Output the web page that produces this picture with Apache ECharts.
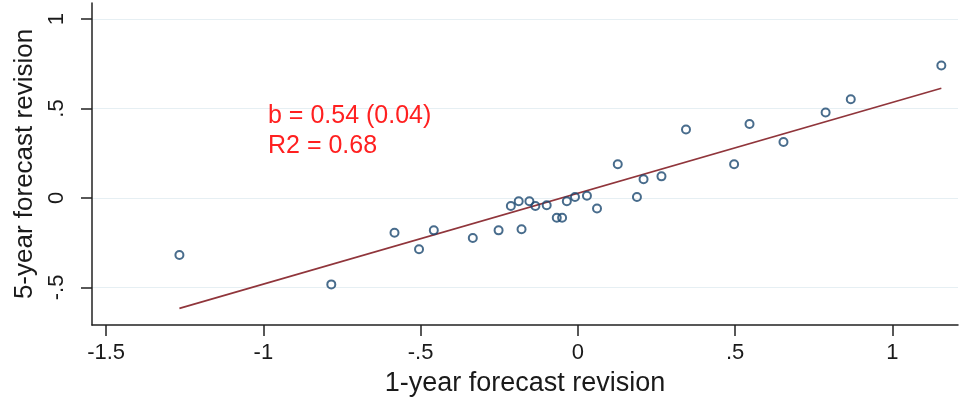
<!DOCTYPE html>
<html>
<head>
<meta charset="utf-8">
<style>html,body{margin:0;padding:0;background:#fff;}#c{width:961px;height:397px;}</style>
<script src="https://cdn.jsdelivr.net/npm/echarts@6/dist/echarts.min.js"></script>
</head>
<body>
<div id="c"></div>
<script>
// Data
var xValues = [-1.267,-0.784,-0.583,-0.505,-0.458,-0.334,-0.252,-0.213,-0.188,-0.179,-0.154,-0.135,-0.099,-0.067,-0.050,-0.035,-0.009,0.029,0.061,0.127,0.188,0.209,0.266,0.344,0.497,0.546,0.654,0.788,0.868,1.156];
var yValues = [-0.319,-0.483,-0.194,-0.287,-0.181,-0.224,-0.181,-0.045,-0.018,-0.175,-0.018,-0.045,-0.041,-0.110,-0.110,-0.018,0.006,0.013,-0.059,0.189,0.006,0.105,0.121,0.383,0.189,0.414,0.313,0.478,0.552,0.741];
var fitX = [-1.267, 1.156];
var fitY = [-0.617, 0.614];
var xTicks = [-1.5,-1,-0.5,0,0.5,1];
var yTicks = [-0.5,0,0.5,1];
var annotation = ['b = 0.54 (0.04)', 'R2 = 0.68'];

function fmt(v){
  var s = String(Math.round(v*10)/10);
  return s.replace(/^(-?)0\./, '$1.');
}

var points = xValues.map(function(x,i){return [x, yValues[i]];});
var fitLine = fitX.map(function(x,i){return [x, fitY[i]];});

var chart = echarts.init(document.getElementById('c'));
var font = 'Liberation Sans, Arial, sans-serif';
chart.setOption({
  animation:false,
  grid:{left:92,right:3,top:3,bottom:72,containLabel:false,outerBoundsMode:'none'},
  xAxis:{
    type:'value', min:-1.545, max:1.209,
    name:'1-year forecast revision', nameLocation:'middle', nameGap:45,
    nameTextStyle:{fontFamily:font,fontSize:27,color:'#1a1a1a'},
    axisLine:{show:true,onZero:false,lineStyle:{color:'#222',width:1.5}},
    axisTick:{show:true,customValues:xTicks,length:11,lineStyle:{color:'#222',width:1.5}},
    axisLabel:{customValues:xTicks,formatter:fmt,margin:17,fontFamily:font,fontSize:22,color:'#1a1a1a'},
    splitLine:{show:false}
  },
  yAxis:{
    type:'value', min:-0.71, max:1.09,
    name:'5-year forecast revision', nameLocation:'middle', nameGap:52, nameRotate:90,
    nameTextStyle:{fontFamily:font,fontSize:26,color:'#1a1a1a'},
    axisLine:{show:true,onZero:false,lineStyle:{color:'#222',width:1.5}},
    axisTick:{show:true,customValues:yTicks,length:11,lineStyle:{color:'#222',width:1.5}},
    axisLabel:{customValues:yTicks,formatter:fmt,rotate:90,margin:24,fontFamily:font,fontSize:22,color:'#1a1a1a'},
    splitLine:{show:false}
  },
  series:[
    {
      type:'line', data:[], silent:true, z:0, zlevel:0,
      markLine:{silent:true,symbol:'none',label:{show:false},z:0,
        lineStyle:{color:'#e6eff3',width:1.2,type:'solid'},
        data:yTicks.map(function(v){return {yAxis:v};})}
    },
    {
      type:'line', data:fitLine, symbol:'none', z:2,
      lineStyle:{color:'#90353b',width:1.6}
    },
    {
      type:'scatter', data:points, symbol:'circle', symbolSize:8, z:3,
      itemStyle:{color:'rgba(255,255,255,0)',borderColor:'#1a476f',borderWidth:2}
    }
  ],
  graphic:[
    {type:'text',z:100,left:268,top:104,style:{text:annotation[0],font:'25px '+font,fill:'#ff2020'}},
    {type:'text',z:100,left:268,top:134,style:{text:annotation[1],font:'25px '+font,fill:'#ff2020'}}
  ]
});
</script>
</body>
</html>
